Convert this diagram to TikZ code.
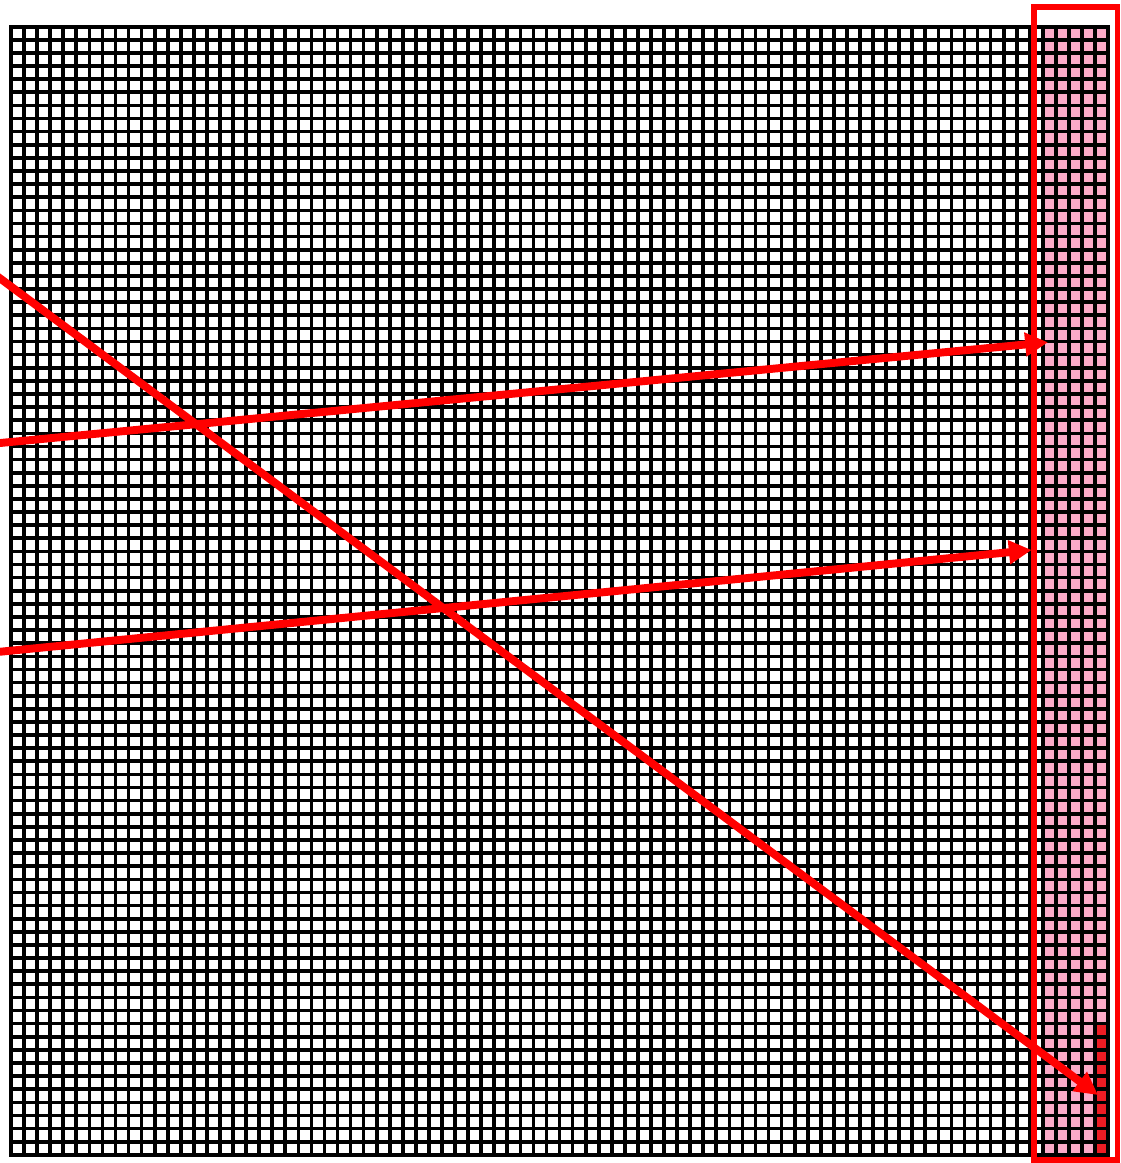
\documentclass[tikz,border=0pt]{standalone}
\usepackage{tikz}
\usetikzlibrary{arrows.meta}
\definecolor{cellpink}{RGB}{251,170,200}
\definecolor{celldark}{RGB}{237,28,36}

\begin{document}
\begin{tikzpicture}[
  x=0.02cm, y=-0.02cm,
  gridline/.style={draw=black, line width=2.1pt, line cap=rect},
  frame/.style={draw=red, line width=3.3pt},
  arr/.style={-{Triangle[length=13pt,width=13pt]}, draw=red, line width=4.5pt}
]
\useasboundingbox (0,0) rectangle (1121,1163);
\clip (0,0) rectangle (1121,1163);

% grid of cells
\begin{scope}[shift={(0.22cm,-0.534cm)}, x=0.26128cm, y=-0.2624cm]
  \fill[cellpink] (79,0) rectangle (84,86);
  \fill[celldark] (83,76) rectangle (84,86);
  \foreach \i in {0,...,84} \draw[gridline] (\i,0) -- (\i,86);
  \foreach \j in {0,...,86} \draw[gridline] (0,\j) -- (84,\j);
\end{scope}

% highlighted columns
\draw[frame] (1033.7,7) rectangle (1117.5,1159.7);

% arrows
\coordinate (s1) at (-30,256);
\coordinate (t1) at (1098,1095);
\coordinate (s2) at (-30,445.9);
\coordinate (t2) at (1048,342.3);
\coordinate (s3) at (-30,654.7);
\coordinate (t3) at (1031.7,550);

\draw[arr] (s1) -- (t1);
\draw[arr] (s2) -- (t2);
\draw[arr] (s3) -- (t3);
\end{tikzpicture}
\end{document}
